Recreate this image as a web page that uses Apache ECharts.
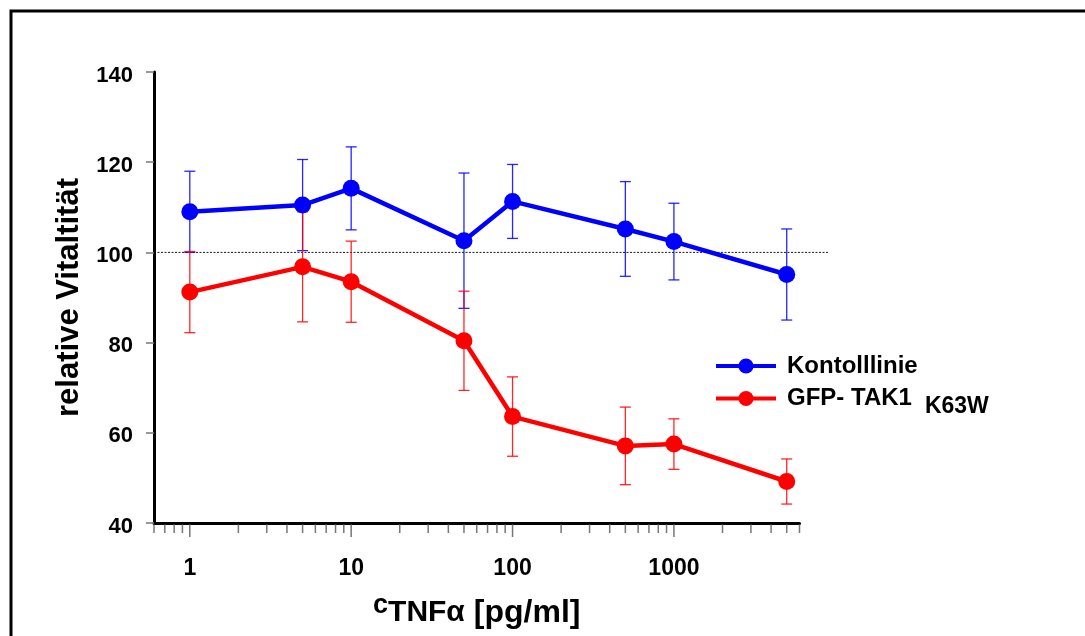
<!DOCTYPE html>
<html>
<head>
<meta charset="utf-8">
<script src="https://cdn.jsdelivr.net/npm/echarts@6/dist/echarts.min.js"></script>
<style>
  html, body {margin: 0; padding: 0; background: #fff;}
  #chart {width: 1085px; height: 636px;}
</style>
</head>
<body>
<div id="chart"></div>
<script>
// TNF-alpha concentrations [pg/ml]
const concentrations = [1, 5, 10, 50, 100, 500, 1000, 5000];
// relative viability, control line
const kontrolle = [109.0, 110.5, 114.2, 102.6, 111.3, 105.2, 102.4, 95.1];
const kontrolleErr = [9.0, 10.1, 9.2, 15.0, 8.2, 10.5, 8.5, 10.1];
// relative viability, GFP-TAK1 K63W
const tak1 = [91.2, 96.8, 93.5, 80.4, 63.6, 57.1, 57.5, 49.2];
const tak1Err = [9.0, 12.2, 9.0, 11.0, 8.8, 8.6, 5.6, 5.0];

const yTicks = [40, 60, 80, 100, 120, 140];
const xMajorTicks = [1, 10, 100, 1000];
const xMinorTicks = [0.6, 0.7, 0.8, 0.9, 2, 3, 4, 5, 6, 7, 8, 9,
  20, 30, 40, 50, 60, 70, 80, 90, 200, 300, 400, 500, 600, 700, 800, 900,
  2000, 3000, 4000, 5000, 6000];
const xRange = [0.6, 6000];
const referenceValue = 100;
const referenceSpan = [0.6, 9000];

const font = "'Liberation Sans', Arial, sans-serif";
const yMin = yTicks[0];

function errorBars(values, errs) {
  return concentrations.map((c, i) => [c, values[i] - errs[i], values[i] + errs[i]]);
}

function renderErrorBar(color) {
  return function (params, api) {
    const x = api.value(0);
    const lo = api.coord([x, api.value(1)]);
    const hi = api.coord([x, api.value(2)]);
    const cap = 5.5;
    const style = {stroke: color, lineWidth: 1.3};
    return {
      type: 'group',
      children: [
        {type: 'line', shape: {x1: lo[0], y1: lo[1], x2: hi[0], y2: hi[1]}, style},
        {type: 'line', shape: {x1: lo[0] - cap, y1: lo[1], x2: lo[0] + cap, y2: lo[1]}, style},
        {type: 'line', shape: {x1: hi[0] - cap, y1: hi[1], x2: hi[0] + cap, y2: hi[1]}, style}
      ]
    };
  };
}

function renderTick(params, api) {
  const p = api.coord([api.value(0), yMin]);
  const len = api.value(1) ? 14 : 10;
  return {
    type: 'line',
    shape: {x1: p[0], y1: p[1] + 1.5, x2: p[0], y2: p[1] + len},
    style: {stroke: '#777', lineWidth: 1.5}
  };
}

function renderReference(params, api) {
  const a = api.coord([api.value(0), api.value(1)]);
  const b = api.coord([api.value(2), api.value(1)]);
  return {
    type: 'line',
    shape: {x1: a[0], y1: a[1], x2: b[0], y2: b[1]},
    style: {stroke: '#000', lineWidth: 0.9, lineDash: [2, 1.5]}
  };
}

const tickData = xMajorTicks.map(v => [v, 1]).concat(xMinorTicks.map(v => [v, 0]));

const myChart = echarts.init(document.getElementById('chart'));
myChart.setOption({
  backgroundColor: '#fff',
  animation: false,
  graphic: [{
    type: 'rect',
    shape: {x: 11, y: 11, width: 1200, height: 800},
    style: {fill: 'none', stroke: '#000', lineWidth: 3}
  }],
  grid: {left: 154, right: 285.5, top: 72, bottom: 113, outerBoundsMode: 'none'},
  legend: {
    data: ['Kontolllinie', 'GFP- TAK1'],
    orient: 'vertical',
    left: 709,
    top: 348,
    itemWidth: 60,
    itemHeight: 19,
    itemGap: 0,
    selectedMode: false,
    lineStyle: {width: 4},
    formatter(name) {
      return name === 'GFP- TAK1' ? '{g|GFP- TAK1}{k|K63W}' : name;
    },
    textStyle: {
      fontFamily: font, fontWeight: 'bold', fontSize: 24, color: '#000',
      lineHeight: 26, padding: [0, 0, 0, 6],
      rich: {
        g: {fontFamily: font, fontWeight: 'bold', fontSize: 24, lineHeight: 26},
        k: {fontFamily: font, fontWeight: 'bold', fontSize: 23, lineHeight: 10, padding: [16, 0, 0, 13]}
      }
    }
  },
  xAxis: {
    type: 'log',
    logBase: 10,
    min: xRange[0],
    max: xRange[1],
    name: '{c|c}{t|TNFα}{u|[pg/ml]}',
    nameLocation: 'middle',
    nameGap: 72,
    nameTextStyle: {
      rich: {
        c: {fontFamily: font, fontWeight: 'bold', fontSize: 27, lineHeight: 8, padding: [0, 0, 14, 0], color: '#000'},
        t: {fontFamily: font, fontWeight: 'bold', fontSize: 30, lineHeight: 36, color: '#000'},
        u: {fontFamily: font, fontWeight: 'bold', fontSize: 32, lineHeight: 36, padding: [0, 0, 0, 9], color: '#000'}
      }
    },
    axisLine: {lineStyle: {color: '#000', width: 3}},
    axisTick: {show: false},
    minorTick: {show: false},
    splitLine: {show: false},
    axisLabel: {
      interval: 0,
      margin: 34,
      fontFamily: font, fontWeight: 'bold', fontSize: 23, color: '#000',
      formatter(v) {
        const e = Math.log10(v);
        return Math.abs(e - Math.round(e)) < 1e-6 && e >= 0 ? String(Math.round(v)) : '';
      }
    }
  },
  yAxis: {
    type: 'value',
    min: yTicks[0],
    max: yTicks[yTicks.length - 1],
    interval: yTicks[1] - yTicks[0],
    name: 'relative Vitaltität',
    nameLocation: 'middle',
    nameGap: 69,
    nameTextStyle: {fontFamily: font, fontWeight: 'bold', fontSize: 31, color: '#000'},
    axisLine: {show: true, lineStyle: {color: '#000', width: 3}},
    axisTick: {length: 8, lineStyle: {color: '#777', width: 1.5}},
    splitLine: {show: false},
    axisLabel: {
      margin: 21,
      formatter: v => '{a|' + v + '}',
      rich: {
        a: {fontFamily: font, fontWeight: 'bold', fontSize: 22, color: '#000', lineHeight: 24, padding: [7, 0, 0, 0]}
      }
    }
  },
  series: [
    {
      type: 'custom',
      name: 'ticks',
      renderItem: renderTick,
      data: tickData,
      silent: true,
      z: 1
    },
    {
      type: 'custom',
      name: 'reference',
      renderItem: renderReference,
      data: [[referenceSpan[0], referenceValue, referenceSpan[1]]],
      encode: {x: 0, y: 1},
      silent: true,
      z: 1
    },
    {
      type: 'custom',
      name: 'errKontrolle',
      renderItem: renderErrorBar('rgba(0,0,255,0.85)'),
      data: errorBars(kontrolle, kontrolleErr),
      encode: {x: 0, y: [1, 2]},
      z: 2
    },
    {
      type: 'custom',
      name: 'errTak1',
      renderItem: renderErrorBar('rgba(255,0,0,0.85)'),
      data: errorBars(tak1, tak1Err),
      encode: {x: 0, y: [1, 2]},
      z: 2
    },
    {
      type: 'line',
      name: 'Kontolllinie',
      data: concentrations.map((c, i) => [c, kontrolle[i]]),
      color: '#0000ff',
      symbol: 'circle',
      symbolSize: 17,
      lineStyle: {width: 4.5},
      z: 3
    },
    {
      type: 'line',
      name: 'GFP- TAK1',
      data: concentrations.map((c, i) => [c, tak1[i]]),
      color: '#ff0000',
      symbol: 'circle',
      symbolSize: 17,
      lineStyle: {width: 4.5},
      z: 3
    }
  ]
});
</script>
</body>
</html>
